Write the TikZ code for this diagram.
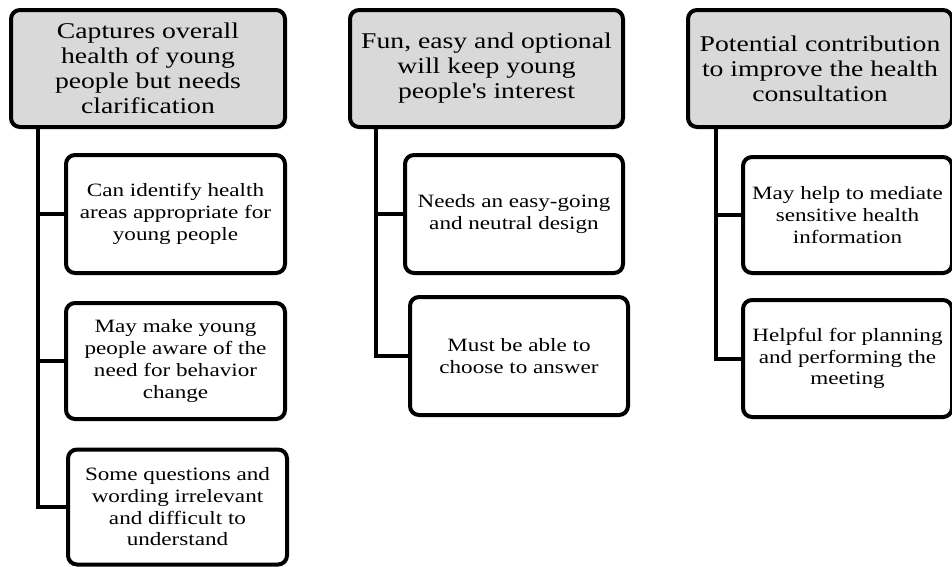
\documentclass[tikz,border=0pt]{standalone}
\usepackage{fontspec}
\setmainfont{Liberation Serif}[FakeStretch=1.23]
\definecolor{headgray}{HTML}{D9D9D9}
\begin{document}
\begin{tikzpicture}[x=1pt,y=-1pt,
  box/.style={draw, line width=4pt, rounded corners=9pt, align=center, inner sep=0pt},
  head/.style={box, fill=headgray, font=\fontsize{22.5}{25}\selectfont},
  item/.style={box, fill=white, font=\fontsize{18.8}{21.7}\selectfont},
  link/.style={line width=4pt}]
\useasboundingbox (0,0) rectangle (952,566);
% column 1
\node[head, minimum width=274pt, minimum height=117pt] (h1) at (148,68.5)
  {Captures overall\\health of young\\people but needs\\clarification};
\node[item, minimum width=219pt, minimum height=118pt] (c11) at (175.5,214)
  {Can identify health\\areas appropriate for\\young people};
\node[item, minimum width=219pt, minimum height=116pt] (c12) at (175.5,361)
  {May make young\\people aware of the\\need for behavior\\change};
\node[item, minimum width=219pt, minimum height=115pt] (c13) at (177.5,507)
  {Some questions and\\wording irrelevant\\and difficult to\\understand};
% column 2
\node[head, minimum width=273pt, minimum height=117pt] (h2) at (486.5,68.5)
  {Fun, easy and optional\\will keep young\\people\textquotesingle s interest};
\node[item, minimum width=218pt, minimum height=118pt] (c21) at (514,214)
  {Needs an easy-going\\and neutral design};
\node[item, minimum width=218pt, minimum height=118pt] (c22) at (519,356)
  {Must be able to\\choose to answer};
% column 3
\node[head, minimum width=264pt, minimum height=117pt] (h3) at (820,68.5)
  {Potential contribution\\to improve the health\\consultation};
\node[item, minimum width=209pt, minimum height=116pt] (c31) at (847.5,215)
  {May help to mediate\\sensitive health\\information};
\node[item, minimum width=209pt, minimum height=117pt] (c32) at (847.5,358.5)
  {Helpful for planning\\and performing the\\meeting};
% connectors
\coordinate (t1) at ([xshift=29pt]h1.south west);
\coordinate (t2) at ([xshift=28pt]h2.south west);
\coordinate (t3) at ([xshift=30pt]h3.south west);
\draw[link] (t1) |- (c13.west);
\draw[link] (t1) |- (c12.west);
\draw[link] (t1) |- (c11.west);
\draw[link] (t2) |- (c22.west);
\draw[link] (t2) |- (c21.west);
\draw[link] (t3) |- (c32.west);
\draw[link] (t3) |- (c31.west);
\end{tikzpicture}
\end{document}
